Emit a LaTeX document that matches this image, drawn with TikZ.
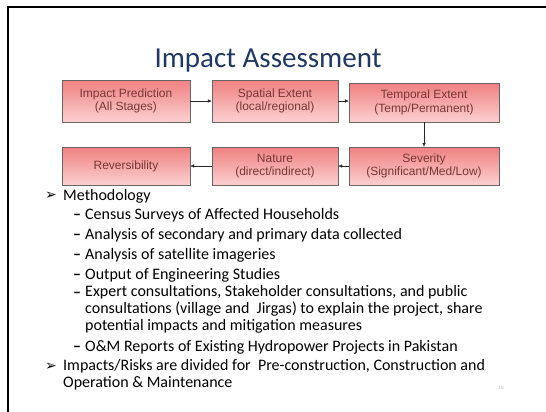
\documentclass[tikz,border=0pt]{standalone}
\usepackage{fontspec}
\setmainfont{Carlito}
\newfontfamily\boxfont{Liberation Sans}
\newfontfamily\symfont{DejaVu Sans}
\usetikzlibrary{positioning, arrows.meta}
\definecolor{titleblue}{RGB}{31, 56, 100}
\definecolor{boxtext}{RGB}{120, 55, 55}
\definecolor{boxtop}{RGB}{240, 128, 128}
\definecolor{boxbottom}{RGB}{251, 208, 208}

\begin{document}
\begin{tikzpicture}[x=1pt, y=-1pt,
                effbox/.style={draw=gray!80!black, thin, top color=boxtop,
                    bottom color=boxbottom, align=center, inner sep=0pt,
                    font=\boxfont\fontsize{12}{13.5}\selectfont, text=boxtext},
                flow/.style={-{Latex[length=4pt, width=3.5pt]}, gray!30!black, thin},
                item/.style={anchor=west, inner sep=0pt, text=black,
                    font=\fontsize{16}{17}\selectfont, align=left},
                dashmark/.style={anchor=west, inner sep=0pt, text=black,
                    font=\bfseries\fontsize{16}{17}\selectfont, yshift=-2pt},
                bulletmark/.style={anchor=west, inner sep=0pt, text=black,
                    font=\symfont\fontsize{14}{16}\selectfont}
            ]
            \useasboundingbox (0,0) rectangle (546,412);
            \fill[white] (0,0) rectangle (546,412);

            % slide frame
            \draw[line width=2pt] (8,412) -- (8,7) -- (546,7);

            % title
            \node[text=titleblue, font=\fontsize{29}{33}\selectfont] (title)
                at (268,61) {Impact Assessment};

            % first row
            \node[effbox, minimum width=128pt, minimum height=42pt] (pred)
                at (126,101) {Impact Prediction\\(All Stages)};
            \node[effbox, minimum width=126pt, minimum height=42pt] (spat)
                at (275,101) {Spatial Extent\\(local/regional)};
            \node[effbox, minimum width=150pt, minimum height=39pt] (temp)
                at (424,102.5) {Temporal Extent\\(Temp/Permanent)};

            % second row
            \node[effbox, minimum width=128pt, minimum height=38pt] (rev)
                at (126,166) {Reversibility};
            \node[effbox, minimum width=126pt, minimum height=38pt] (nat)
                at (275,166) {Nature\\(direct/indirect)};
            \node[effbox, minimum width=150pt, minimum height=38pt] (sev)
                at (424,166) {Severity\\(Significant/Med/Low)};

            % chain of steps
            \draw[flow] (pred.east) -- (spat.west);
            \draw[flow] (spat.east) -- (spat.east -| temp.west);
            \draw[flow] (temp.south) -- (sev.north);
            \draw[flow] (sev.west) -- (nat.east);
            \draw[flow] (nat.west) -- (rev.east);

            % methodology
            \node[bulletmark] (m1) at (45,196) {➢};
            \node[item] (meth) at (63,196) {Methodology};
            \node[dashmark] (d1) at (73,215) {–};
            \node[item] (census) at (85,215) {Census Surveys of Affected Households};
            \node[dashmark] (d2) at (73,235) {–};
            \node[item] (data) at (85,235) {Analysis of secondary and primary data collected};
            \node[dashmark] (d3) at (73,255) {–};
            \node[item] (sat) at (85,255) {Analysis of satellite imageries};
            \node[dashmark] (d4) at (73,275) {–};
            \node[item] (eng) at (85,275) {Output of Engineering Studies};
            \node[dashmark] (d5) at (73,293) {–};
            \node[item, anchor=north west] (cons) at (85,285)
                {Expert consultations, Stakeholder consultations, and public\\
                 consultations (village and\ \ Jirgas) to explain the project, share\\
                 potential impacts and mitigation measures};
            \node[dashmark] (d6) at (73,347) {–};
            \node[item] (om) at (85,347) {O\&M Reports of Existing Hydropower Projects in Pakistan};

            % risks
            \node[bulletmark] (m2) at (45,367) {➢};
            \node[item, anchor=north west] (risk) at (63,359)
                {Impacts/Risks are divided for\ \ Pre-construction, Construction and\\
                 Operation \& Maintenance};

            % page number
            \node[font=\fontsize{5}{6}\selectfont, text=gray!60] (page) at (501,388) {10};

            \end{tikzpicture}
\end{document}
